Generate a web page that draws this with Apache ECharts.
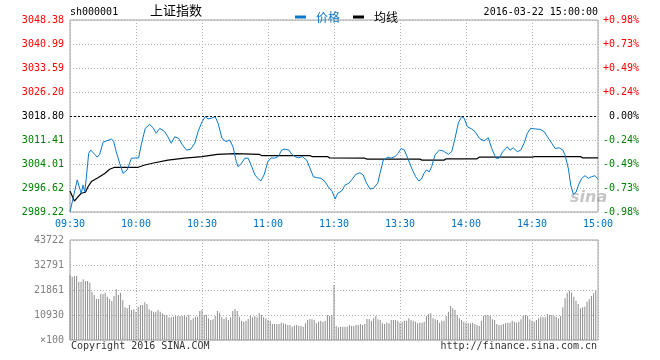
<!DOCTYPE html>
<html><head><meta charset="utf-8">
<script src="https://cdn.jsdelivr.net/npm/echarts@6/dist/echarts.min.js"></script>
<style>html,body{margin:0;padding:0;background:#fff}#c{width:660px;height:360px}</style>
</head><body><div id="c"></div>
<script>
var timeTicks = ['09:30','10:00','10:30','11:00','11:30','13:30','14:00','14:30','15:00'];
var priceTicks = ['2989.22','2996.62','3004.01','3011.41','3018.80','3026.20','3033.59','3040.99','3048.38'];
var pctTicks = ['-0.98%','-0.73%','-0.49%','-0.24%',' 0.00%','+0.24%','+0.49%','+0.73%','+0.98%'];
var volTicks = ['\u00d7100','10930','21861','32791','43722'];
var prevClose = 3018.80;

var priceMin = [0,3.3,4.4,5.1,5.9,6.7,7.4,8.5,9.4,11.2,12.4,13.5,15,16.5,18.8,19.8,21,22.6,24.1,24.9,26,27.9,31.2,32.4,34.2,36.2,37.7,39.2,40.8,43,44.5,46,47.6,49.4,50.9,52.9,54.8,56.7,58.2,60,61.5,62.7,64.2,66,67.3,69.1,71,72.6,74.1,75.6,76.4,77.9,79.5,81,82.6,84.1,85.6,86.8,88.3,89.9,91.4,92.9,94.7,96.2,97.7,99.5,100.8,102.3,103.8,105.6,107.6,109.1,110.6,112.1,114.1,115.9,117.4,119.2,120.5,121.7,123.5,125,126.8,128,129.9,131.8,133.3,134.8,136.4,137.9,139.9,140.9,142.4,144.4,145.9,147.7,149.2,150.5,152,153.5,155.3,157.1,158.6,159.8,160.9,162.1,163.3,164.4,165.9,167.9,169.7,172,173.5,175,176.5,178,179.2,180.6,182.6,184.1,186.1,188.2,190.1,191.7,193.6,195.1,196.7,198.8,200,201.5,203.3,204.9,206.4,207.9,209.4,211.4,213.6,215.5,217,219,220.5,222.4,224,225,226.5,227.6,228.8,230,231.1,232.6,234.1,235.6,237.1,238.6,240];
var priceVal = [2989.3,2999.1,2996.5,2995.0,2997.5,2995.5,2999.6,3007.3,3008.3,3007.0,3006.1,3007.0,3010.7,3011.1,3011.7,3011.1,3007.8,3004.2,3001.1,3000.6,3002.2,3005.8,3005.9,3009.9,3015.0,3016.2,3015.2,3013.5,3015.0,3014.0,3012.4,3010.4,3012.4,3011.9,3010.1,3008.3,3008.5,3010.4,3014.0,3017.0,3018.6,3017.9,3018.1,3018.6,3016.6,3011.9,3010.9,3011.4,3009.3,3004.7,3003.2,3004.2,3005.8,3005.8,3003.2,3000.6,2999.4,2998.8,3000.8,3004.7,3005.9,3005.8,3006.3,3008.3,3008.6,3008.3,3007.0,3006.3,3005.9,3006.3,3005.2,3002.7,3000.1,2999.8,2999.6,2998.6,2997.0,2995.5,2993.2,2995.0,2995.7,2997.5,2998.1,2999.1,3000.8,3001.3,3000.6,2998.1,2996.3,2996.5,2998.1,3001.1,3005.2,3006.1,3005.8,3006.3,3007.3,3008.8,3008.3,3005.8,3002.7,3000.1,2998.8,2999.4,3001.1,3002.2,3001.6,3003.2,3006.8,3008.3,3008.0,3007.0,3007.8,3011.9,3016.6,3018.6,3018.1,3015.5,3014.8,3014.0,3011.9,3011.1,3012.1,3008.8,3005.8,3005.8,3007.8,3009.3,3008.3,3009.0,3007.8,3008.3,3010.4,3013.5,3015.0,3014.8,3014.7,3014.0,3012.4,3010.4,3008.8,3009.0,3008.3,3006.8,3002.7,2997.5,2994.7,2995.3,2997.5,2999.6,3000.4,2999.6,3000.1,3000.4,2999.4];

var avgMin = [0,2,3.6,5.1,7,8.2,9.7,12.7,15.8,18,20.3,31,34,38.5,44.5,52,60,67,75,86,87,109,110,117,118,134,135,159,160,170,171,185,186,210,211,232,233,240];
var avgVal = [2995.7,2992.6,2993.9,2995.0,2995.3,2997.0,2998.6,2999.8,3001.1,3002.4,3003.0,3003.0,3003.7,3004.4,3005.2,3005.8,3006.3,3007.0,3007.2,3007.0,3006.6,3006.6,3006.3,3006.3,3005.9,3005.8,3005.5,3005.5,3005.2,3005.2,3005.6,3005.6,3006.1,3006.1,3006.3,3006.3,3005.9,3005.9];

var volumes = [28420,27690,28000,28000,25500,25500,26530,25790,25790,25060,
21130,19670,17930,17930,20110,20110,20700,18950,17930,17050,
19240,22150,19670,20700,17490,14290,13840,15300,13120,13410,
12390,14570,15300,15300,16470,15740,13410,12830,12390,12390,
13120,12390,11660,10930,10930,9910,9910,10200,10490,10490,
10490,10490,10930,10200,10930,8740,9470,10200,10200,12680,
13120,10930,10930,9470,8740,9040,10490,12680,11950,9910,
9180,9910,8740,9910,12680,13550,12680,10200,8450,8010,
8450,9180,10490,9910,10490,9910,11660,10930,9910,9470,
8740,8450,6995,6995,6995,6995,7580,7290,6995,6560,
6560,5830,6270,6560,6270,6270,5830,7290,8740,9180,
9040,8740,7290,8010,8450,8010,8450,10930,10490,10930,24050,
6120,5540,5830,5830,5830,5830,6560,6120,6120,6560,
6560,6995,6560,6995,9180,9180,8450,9470,10490,9040,
8740,7290,6995,7580,7290,8740,8740,8740,8450,7580,
8010,8450,8450,9470,8740,8450,8010,7290,7580,7580,
8010,10490,11370,11660,9470,9040,8740,7580,8450,8450,
10490,12390,14870,13840,13120,10930,9470,8740,8010,7580,
7290,7290,7580,6995,6560,6120,8450,10490,10930,10930,
10490,9040,8740,6995,6560,6560,6995,7290,7580,7580,
8450,8010,7580,8010,9040,10490,10930,10490,9040,8450,
8010,8740,9470,10200,9910,9910,11370,10930,10930,10490,
10200,9470,10490,14290,18220,20700,21570,20700,18950,17200,
15740,13840,14290,14570,16760,17780,19240,20400,21570];

var FONT = 'DejaVu Sans Mono';
var yMin = 2989.22, yMax = 3048.38, yInt = 7.395;
function pIdx(v){ return Math.round((v - yMin) / yInt); }

var pricePts = priceMin.map(function(m,i){ return [m, priceVal[i]]; });
var avgPts = avgMin.map(function(m,i){ return [m, avgVal[i]]; });
var volPts = volumes.map(function(v,i){ return [i, v]; });

var chart = echarts.init(document.getElementById('c'), null, {renderer:'canvas'});
var split = {show:true, lineStyle:{color:'#b0b0b0', type:[1,2], width:1}};
var richLbl = {
  r:{color:'#ff0000', fontFamily:FONT, fontSize:10},
  k:{color:'#000000', fontFamily:FONT, fontSize:10},
  g:{color:'#008000', fontFamily:FONT, fontSize:10}
};
function tag(i){ return i > 4 ? 'r' : (i === 4 ? 'k' : 'g'); }

chart.setOption({
  animation:false,
  backgroundColor:'#ffffff',
  grid:[
    {left:70, top:20, width:528, height:192, show:true, borderColor:'#a0a0a0', borderWidth:1},
    {left:70, top:240, width:528, height:100, show:true, borderColor:'#a0a0a0', borderWidth:1}
  ],
  legend:{
    left:290, top:6, icon:'rect', itemWidth:11, itemHeight:3, itemGap:13,
    data:[{name:'价格', textStyle:{color:'#0a78c8'}},{name:'均线', textStyle:{color:'#000'}}],
    textStyle:{fontSize:12, fontFamily:'Noto Sans CJK SC', padding:[0,0,0,5]}
  },
  xAxis:[
    {type:'value', gridIndex:0, min:0, max:240, interval:30,
     axisLine:{show:false}, axisTick:{show:false}, splitLine:split,
     axisLabel:{show:true, margin:7, color:'#0070c0', fontFamily:FONT, fontSize:10,
       formatter:function(v){ return timeTicks[Math.round(v/30)]; }}},
    {type:'value', gridIndex:1, min:0, max:240, interval:30,
     axisLine:{show:false}, axisTick:{show:false}, splitLine:split, axisLabel:{show:false}}
  ],
  yAxis:[
    {type:'value', gridIndex:0, min:yMin, max:yMax, interval:yInt,
     axisLine:{show:false}, axisTick:{show:false}, splitLine:split,
     axisLabel:{margin:6, rich:richLbl, formatter:function(v){ var i=pIdx(v); return '{'+tag(i)+'|'+priceTicks[i]+'}'; }}},
    {type:'value', gridIndex:0, position:'right', min:yMin, max:yMax, interval:yInt,
     axisLine:{show:false}, axisTick:{show:false}, splitLine:{show:false},
     axisLabel:{margin:5, align:'left', rich:richLbl, formatter:function(v){ var i=pIdx(v); return '{'+tag(i)+'|'+pctTicks[i]+'}'; }}},
    {type:'value', gridIndex:1, min:0, max:43722, interval:10930.5,
     axisLine:{show:false}, axisTick:{show:false}, splitLine:split,
     axisLabel:{margin:6, color:'#808080', fontFamily:FONT, fontSize:10,
       formatter:function(v){ return volTicks[Math.round(v/10930.5)]; }}}
  ],
  series:[
    {name:'价格', type:'line', xAxisIndex:0, yAxisIndex:0, data:pricePts, showSymbol:false, symbol:'none',
     lineStyle:{color:'#0a78c8', width:1}, itemStyle:{color:'#0a78c8'}, z:4,
     markLine:{silent:true, symbol:'none', label:{show:false},
       lineStyle:{color:'#000', type:[2,2], width:1}, data:[{yAxis:prevClose}]}},
    {name:'均线', type:'line', xAxisIndex:0, yAxisIndex:0, data:avgPts, showSymbol:false, symbol:'none',
     lineStyle:{color:'#000', width:1.2}, itemStyle:{color:'#000'}, z:3},
    {name:'vol', type:'bar', xAxisIndex:1, yAxisIndex:2, data:volPts, barWidth:1,
     itemStyle:{color:'#8c8c8c'}, z:3}
  ],
  graphic:[
    {type:'text', left:70, top:7, style:{text:'sh000001', fill:'#000', font:'10px "DejaVu Sans Mono"'}},
    {type:'text', left:150, top:4, style:{text:'上证指数', fill:'#000', font:'13px "Noto Sans CJK SC"'}},
    {type:'text', right:62, top:7, style:{text:'2016-03-22 15:00:00', fill:'#000', font:'10px "DejaVu Sans Mono"'}},
    {type:'text', left:71, top:341, style:{text:'Copyright 2016 SINA.COM', fill:'#333', font:'10px "DejaVu Sans Mono"'}},
    {type:'text', right:63, top:341, style:{text:'http://finance.sina.com.cn', fill:'#333', font:'10px "DejaVu Sans Mono"'}},
    {type:'text', left:570, top:190, z:1, style:{text:'sina', fill:'rgba(150,150,150,0.55)', font:'italic bold 16px "DejaVu Sans"'}}
  ]
});
</script></body></html>
